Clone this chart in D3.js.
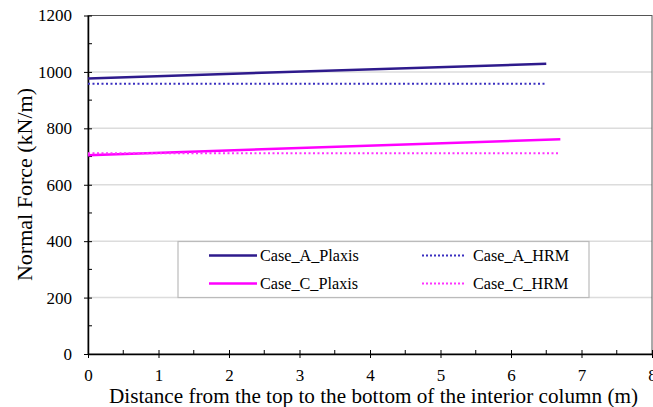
<!DOCTYPE html>
<html>
<head>
<meta charset="utf-8">
<script src="https://cdn.jsdelivr.net/npm/d3@7"></script>
<style>
body { margin: 0; background: #fff; }
</style>
</head>
<body>
<div id="chart"></div>
<script>
// values
var seriesNames = ["Case_A_Plaxis", "Case_A_HRM", "Case_C_Plaxis", "Case_C_HRM"];
var seriesX = [[0, 6.5], [0, 6.5], [0, 6.7], [0, 6.7]];
var seriesY = [[977, 1029], [958, 958], [705, 761], [712, 712]];
var xTicks = [0, 1, 2, 3, 4, 5, 6, 7, 8];
var yTicks = [0, 200, 400, 600, 800, 1000, 1200];

var colors = ["#2e1a8c", "#3a2fc0", "#ff00ff", "#ff33ff"];
var dashed = [false, true, false, true];
var serif = "'Liberation Serif', 'Times New Roman', Times, serif";

var margin = {top: 15.5, right: 1, bottom: 53, left: 88};
var width = 653, height = 407;
var chartWidth = width - margin.left - margin.right;
var chartHeight = height - margin.top - margin.bottom;

var svg = d3.select("#chart").append("svg")
    .attr("width", width)
    .attr("height", height)
  .append("g")
    .attr("transform", `translate(${margin.left}, ${margin.top})`);

var xScale = d3.scaleLinear().domain([0, 8]).range([0, chartWidth]);
var yScale = d3.scaleLinear().domain([0, 1200]).range([chartHeight, 0]);

// gridlines
svg.append("g")
  .selectAll("line")
  .data(yTicks.filter(d => d > 0 && d < 1200))
  .join("line")
    .attr("x1", 0)
    .attr("x2", chartWidth)
    .attr("y1", d => yScale(d))
    .attr("y2", d => yScale(d))
    .attr("stroke", "#dcdcdc")
    .attr("stroke-width", 1.5);

// frame
svg.append("rect")
    .attr("x", 0).attr("y", 0)
    .attr("width", chartWidth).attr("height", chartHeight)
    .attr("fill", "none")
    .attr("stroke", "#555")
    .attr("stroke-width", 1);

// minor ticks
svg.append("g")
  .selectAll("line")
  .data(d3.range(100, 1200, 200))
  .join("line")
    .attr("x1", 0).attr("x2", 4)
    .attr("y1", d => yScale(d)).attr("y2", d => yScale(d))
    .attr("stroke", "#000");

svg.append("g")
  .selectAll("line")
  .data(d3.range(0.5, 8, 1))
  .join("line")
    .attr("x1", d => xScale(d)).attr("x2", d => xScale(d))
    .attr("y1", chartHeight - 4).attr("y2", chartHeight)
    .attr("stroke", "#000");

// axes
var xAxis = d3.axisBottom(xScale).tickValues(xTicks).tickFormat(d3.format("d"))
    .tickSize(4).tickSizeOuter(0).tickPadding(10.5);
var yAxis = d3.axisLeft(yScale).tickValues(yTicks).tickFormat(d3.format("d"))
    .tickSize(4).tickSizeOuter(0).tickPadding(12);

var gx = svg.append("g")
    .attr("transform", `translate(0,${chartHeight})`)
    .call(xAxis)
    .attr("font-family", serif)
    .attr("font-size", 17);
gx.select(".domain").attr("stroke", "#000").attr("stroke-width", 1.5);
gx.selectAll(".tick line").attr("y1", -4).attr("stroke", "#000");
gx.selectAll("text").attr("fill", "#000");

var gy = svg.append("g")
    .call(yAxis)
    .attr("font-family", serif)
    .attr("font-size", 17);
gy.select(".domain").attr("stroke", "#000").attr("stroke-width", 1.5);
gy.selectAll(".tick line").attr("x1", 4).attr("x2", -4).attr("stroke", "#000");
gy.selectAll("text").attr("fill", "#000");

// axis titles
svg.append("text")
    .attr("x", 373.5 - margin.left)
    .attr("y", 402.5 - margin.top)
    .attr("text-anchor", "middle")
    .attr("font-family", serif)
    .attr("font-size", 21.2)
    .text("Distance from the top to the bottom of the interior column (m)");

svg.append("text")
    .attr("transform", `translate(${32 - margin.left},${184.5 - margin.top}) rotate(-90)`)
    .attr("text-anchor", "middle")
    .attr("font-family", serif)
    .attr("font-size", 22)
    .text("Normal Force (kN/m)");

// lines
var line = d3.line()
    .x(d => xScale(d[0]))
    .y(d => yScale(d[1]));

svg.append("g")
  .selectAll("path")
  .data(seriesNames.map((n, i) => seriesX[i].map((x, j) => [x, seriesY[i][j]])))
  .join("path")
    .attr("d", line)
    .attr("fill", "none")
    .attr("stroke", (d, i) => colors[i])
    .attr("stroke-width", (d, i) => dashed[i] ? 2 : 2.5)
    .attr("stroke-dasharray", (d, i) => dashed[i] ? "2,2.5" : null);

// legend
var legend = svg.append("g")
    .attr("transform", `translate(${178 - margin.left},${241.5 - margin.top})`);

legend.append("rect")
    .attr("width", 411)
    .attr("height", 56)
    .attr("fill", "#fff")
    .attr("stroke", "#bbb")
    .attr("stroke-width", 1.2);

var items = legend.selectAll("g.item")
  .data(seriesNames)
  .join("g")
    .attr("class", "item")
    .attr("transform", (d, i) => `translate(${i % 2 === 0 ? 31 : 244},${i < 2 ? 14 : 42})`);

items.append("line")
    .attr("x1", 0).attr("x2", (d, i) => i % 2 === 0 ? 48 : 43)
    .attr("y1", 0).attr("y2", 0)
    .attr("stroke", (d, i) => colors[i])
    .attr("stroke-width", (d, i) => dashed[i] ? 2 : 2.5)
    .attr("stroke-dasharray", (d, i) => dashed[i] ? "2,2" : null);

items.append("text")
    .attr("x", (d, i) => i % 2 === 0 ? 51 : 51)
    .attr("y", 0)
    .attr("dy", "0.35em")
    .attr("font-family", serif)
    .attr("font-size", 16.2)
    .text(d => d);
</script>
</body>
</html>
